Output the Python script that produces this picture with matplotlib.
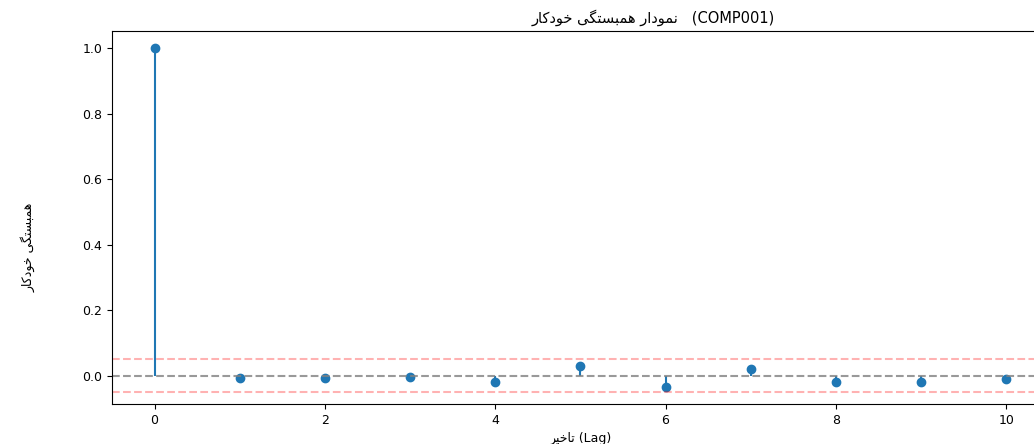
import matplotlib
matplotlib.use("Agg")
import matplotlib.pyplot as plt

# داده‌ها
lags = [0, 1, 2, 3, 4, 5, 6, 7, 8, 9, 10]
acf_values = [1.0, -0.005, -0.005, -0.004, -0.018, 0.03, -0.034, 0.021, -0.019, -0.018, -0.01]
conf_level = 0.05
series_name = "COMP001"

title_fa = "نمودار همبستگی خودکار"
ylabel_fa = "همبستگی خودکار"
xlabel_fa = "تاخیر"

# شکل‌های حروف (منفرد، پایانی، آغازی، میانی)
FORMS = {
    "ا": ("\uFE8D", "\uFE8E"),
    "د": ("\uFEA9", "\uFEAA"),
    "ر": ("\uFEAD", "\uFEAE"),
    "و": ("\uFEED", "\uFEEE"),
    "ن": ("\uFEE5", "\uFEE6", "\uFEE7", "\uFEE8"),
    "م": ("\uFEE1", "\uFEE2", "\uFEE3", "\uFEE4"),
    "ه": ("\uFEE9", "\uFEEA", "\uFEEB", "\uFEEC"),
    "ب": ("\uFE8F", "\uFE90", "\uFE91", "\uFE92"),
    "س": ("\uFEB1", "\uFEB2", "\uFEB3", "\uFEB4"),
    "ت": ("\uFE95", "\uFE96", "\uFE97", "\uFE98"),
    "خ": ("\uFEA5", "\uFEA6", "\uFEA7", "\uFEA8"),
    "گ": ("\uFB92", "\uFB93", "\uFB94", "\uFB95"),
    "ک": ("\uFB8E", "\uFB8F", "\uFB90", "\uFB91"),
    "ی": ("\uFBFC", "\uFBFD", "\uFBFE", "\uFBFF"),
}


def farsi(text):
    """اتصال حروف و برگرداندن ترتیب برای نمایش راست به چپ."""
    out = []
    for i, ch in enumerate(text):
        if ch not in FORMS:
            out.append(ch)
            continue
        prev = text[i - 1] if i > 0 else ""
        nxt = text[i + 1] if i + 1 < len(text) else ""
        join_prev = prev in FORMS and len(FORMS[prev]) == 4
        join_next = len(FORMS[ch]) == 4 and nxt in FORMS
        f = FORMS[ch]
        if join_prev and join_next:
            out.append(f[3])
        elif join_prev:
            out.append(f[1])
        elif join_next:
            out.append(f[2])
        else:
            out.append(f[0])
    return "".join(out)[::-1]


plt.rcParams["font.family"] = ["DejaVu Sans", "Noto Sans"]
plt.rcParams["font.size"] = 9

fig = plt.figure(figsize=(10.34, 4.44), dpi=100)
ax = fig.add_axes([0.1083, 0.0901, 0.906, 0.840])

ax.stem(lags, acf_values, basefmt=" ")
ax.axhline(0, color="gray", linestyle="--", alpha=0.8)
ax.axhline(conf_level, color="red", linestyle="--", alpha=0.3)
ax.axhline(-conf_level, color="red", linestyle="--", alpha=0.3)

ax.set_xticks([0, 2, 4, 6, 8, 10])
ax.set_yticks([0.0, 0.2, 0.4, 0.6, 0.8, 1.0])

ax.set_title(farsi(title_fa) + "   (" + series_name + ")", fontsize=10.5, x=0.578)
ax.set_xlabel(farsi(xlabel_fa) + " (Lag)", fontsize=9)
ax.set_ylabel(farsi(ylabel_fa), fontsize=9)
ax.yaxis.set_label_coords(-0.082, 0.42)

plt.savefig("out.png", dpi=100)
